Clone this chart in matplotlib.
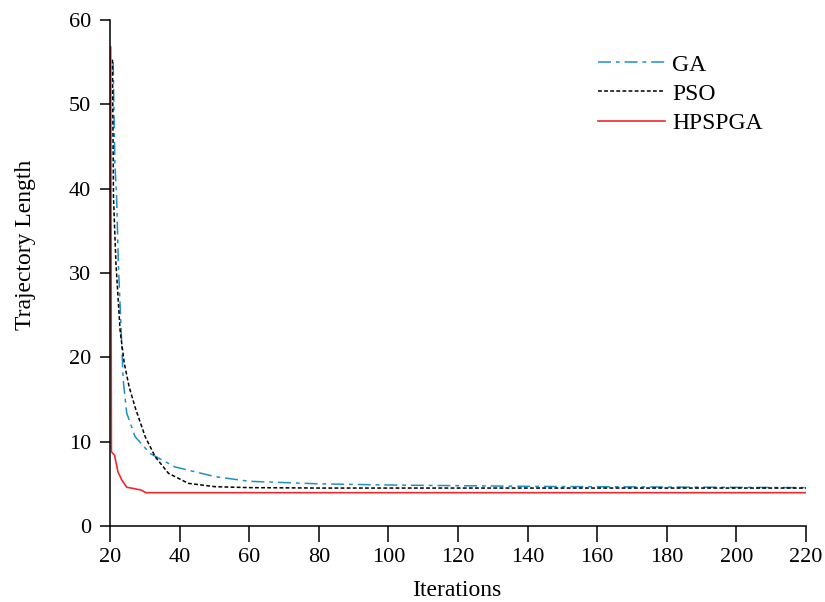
import matplotlib
matplotlib.use("Agg")
import matplotlib.pyplot as plt

plt.rcParams['font.family'] = ['Liberation Serif', 'DejaVu Serif']

ga_x = [20.9, 21.4, 21.9, 22.4, 23.2, 23.8, 24.8, 27.2, 31.5, 38.7, 50.2, 60, 80, 100, 140, 180, 220]
ga_y = [55.0, 43.0, 39.0, 31.2, 23.2, 17.3, 13.4, 10.6, 8.6, 7.0, 5.85, 5.3, 5.0, 4.86, 4.7, 4.62, 4.55]

pso_x = [20.7, 21.0, 21.7, 22.9, 24.1, 25.5, 27.2, 30.1, 33.0, 36.8, 42.5, 50.2, 60, 80, 120, 160, 220]
pso_y = [55.3, 39.0, 31.2, 23.2, 19.3, 16.5, 14.1, 10.6, 8.2, 6.25, 5.06, 4.66, 4.55, 4.5, 4.5, 4.5, 4.5]

hp_x = [20.2, 20.4, 21.3, 22.3, 23.4, 24.8, 28.9, 30.3, 60, 120, 220]
hp_y = [56.8, 8.8, 8.4, 6.4, 5.45, 4.6, 4.27, 3.95, 3.95, 3.95, 3.95]

x_ticks = [20, 40, 60, 80, 100, 120, 140, 160, 180, 200, 220]
y_ticks = [0, 10, 20, 30, 40, 50, 60]

W, H = 825, 602
fig = plt.figure(figsize=(W / 100, H / 100), dpi=100)
ax = fig.add_axes([110 / W, 1 - 526 / H, (806 - 110) / W, (526 - 20) / H])

ax.plot(ga_x, ga_y, color='#1f8fc2', lw=1.1, dashes=(8.5, 3.2, 2.5, 3.2), label='GA')
ax.plot(pso_x, pso_y, color='black', lw=1.1, dashes=(2.5, 1.5), label='PSO')
ax.plot(hp_x, hp_y, color='#ee2a2f', lw=1.2, label='HPSPGA')

ax.set_xlim(20, 220)
ax.set_ylim(0, 60)
ax.set_xticks(x_ticks)
ax.set_yticks(y_ticks)
ax.spines['top'].set_visible(False)
ax.spines['right'].set_visible(False)
for s in ('left', 'bottom'):
    ax.spines[s].set_linewidth(1.1)
ax.tick_params(axis='x', direction='out', length=11.5, width=1.1, labelsize=16, pad=4)
ax.tick_params(axis='y', direction='out', length=7, width=1.1, labelsize=16, pad=6.5)

ax.set_xlabel('Iterations', fontsize=17)
ax.set_ylabel('Trajectory Length', fontsize=17)
ax.xaxis.set_label_coords((457 - 110) / 696, (526 - 590) / 506)
ax.yaxis.set_label_coords((26 - 110) / 696, (526 - 245) / 506)
ax.xaxis.label.set_va('center')
ax.yaxis.label.set_va('center')
ax.yaxis.label.set_ha('center')

leg = ax.legend(loc='center left', bbox_to_anchor=(598 / W, 1 - 94 / H),
                bbox_transform=fig.transFigure, frameon=False,
                fontsize=17, handlelength=2.85, labelspacing=0.32,
                handletextpad=0.3, borderpad=0, borderaxespad=0)

fig.savefig('out.png', dpi=100)
